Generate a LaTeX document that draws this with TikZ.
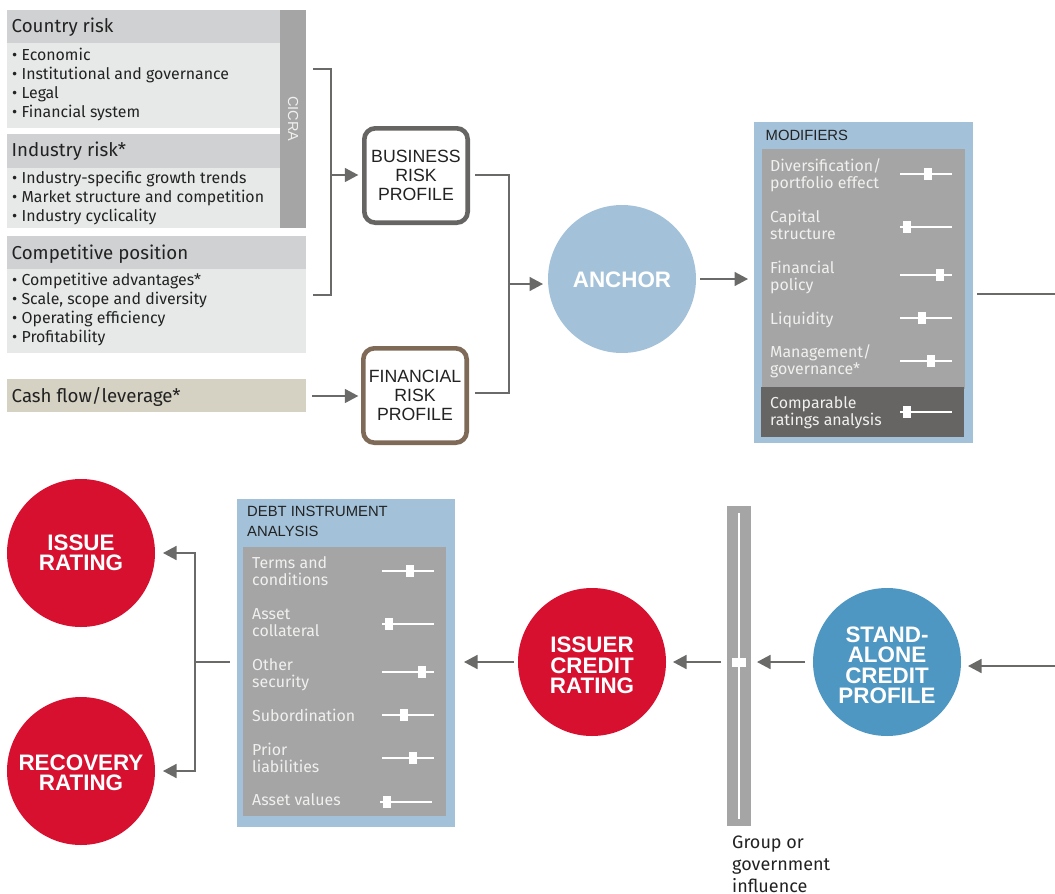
\documentclass[tikz,border=0pt]{standalone}
\usepackage{fontspec}
\setmainfont{Fira Sans}
\newfontfamily\helv{Liberation Sans}
\usetikzlibrary{arrows.meta}
\definecolor{hdgray}{HTML}{D0D1D3}
\definecolor{bdgray}{HTML}{E7E9E8}
\definecolor{midgray}{HTML}{A5A5A5}
\definecolor{darkbar}{HTML}{666563}
\definecolor{tanbox}{HTML}{D5D2C3}
\definecolor{lineg}{HTML}{6A6A68}
\definecolor{brownb}{HTML}{7F6A58}
\definecolor{lblue}{HTML}{A3C2D9}
\definecolor{mblue}{HTML}{4F97C3}
\definecolor{crimson}{HTML}{D7102F}
\definecolor{inktext}{HTML}{222222}
\definecolor{sltext}{HTML}{F0F0EE}
\tikzset{
 x=1pt,y=-1pt,
 panel/.style={draw=none,inner sep=0pt,outer sep=0pt,anchor=north west},
 headtext/.style={anchor=west,inner sep=0pt,text=inktext,font=\fontsize{18.7}{20}\selectfont},
 bullets/.style={anchor=west,inner sep=0pt,align=left,text=inktext,font=\fontsize{15.9}{19}\selectfont},
 sltxt/.style={anchor=west,inner sep=0pt,align=left,text=sltext,font=\fontsize{15.9}{17.2}\selectfont},
 boxtitle/.style={anchor=west,inner sep=0pt,align=left,text=inktext,font=\helv\fontsize{14.8}{20}\selectfont},
 profile/.style={rounded corners=11pt,line width=4.6pt,fill=white,inner sep=0pt,outer sep=0pt,anchor=north west,
   minimum width=103.4pt,minimum height=94.4pt,align=center,text=inktext,font=\helv\fontsize{17.7}{19.4}\selectfont},
 disc/.style={circle,minimum size=148pt,inner sep=0pt,outer sep=0pt},
 disctext/.style={inner sep=0pt,align=center,text=white,font=\helv\bfseries\fontsize{22.4}{20.5}\selectfont},
 wire/.style={draw=lineg,line width=1.6pt},
 arr/.style={wire,-{Triangle[length=13.5pt,width=14pt]}},
 knob/.style={fill=white,draw=none,inner sep=0pt,minimum width=8pt,minimum height=12pt},
 track/.style={draw=white,line width=1.4pt},
}
\newcommand{\slid}[5]{% name, line x0, line x1, y, knob x
 \coordinate (#1a) at (#2,#4); \coordinate (#1b) at (#3,#4);
 \draw[track] (#1a) -- (#1b);
 \node[knob] (#1k) at (#5,#4) {};}
\begin{document}
\begin{tikzpicture}
\useasboundingbox (0,0) rectangle (1055,894);
% left panels
\node[panel,fill=midgray,minimum width=26pt,minimum height=218pt] (cicra) at (280,10) {};
\node[anchor=center,rotate=-90,inner sep=0pt,text=sltext,font=\helv\fontsize{14.5}{16}\selectfont] (cicrat) at (cicra.center) {CICRA};
\node[panel,fill=hdgray,minimum width=273pt,minimum height=33pt] (h1) at (7,10) {};
\node[panel,fill=bdgray,minimum width=273pt,minimum height=85pt] (b1) at (7,43) {};
\node[panel,fill=hdgray,minimum width=273pt,minimum height=34pt] (h2) at (7,134) {};
\node[panel,fill=bdgray,minimum width=273pt,minimum height=60pt] (b2) at (7,168) {};
\node[panel,fill=hdgray,minimum width=299pt,minimum height=33pt] (h3) at (7,236) {};
\node[panel,fill=bdgray,minimum width=299pt,minimum height=84pt] (b3) at (7,269) {};
\node[panel,fill=tanbox,minimum width=299pt,minimum height=33pt] (cf) at (7,379) {};
\node[headtext] (h1t) at (11.5,27.5) {Country risk};
\node[bullets] (b1t) at (12,84) {• Economic\\• Institutional and governance\\• Legal\\• Financial system};
\node[headtext] (h2t) at (11.5,151.5) {Industry risk*};
\node[bullets] (b2t) at (12,197.5) {• Industry-specific growth trends\\• Market structure and competition\\• Industry cyclicality};
\node[headtext] (h3t) at (11.5,254.5) {Competitive position};
\node[bullets] (b3t) at (12,309.7) {• Competitive advantages*\\• Scale, scope and diversity\\• Operating efficiency\\• Profitability};
\node[headtext] (cft) at (11.5,396.5) {Cash flow/leverage*};
% profiles
\node[profile,draw=darkbar] (bus) at (364.3,128.3) {BUSINESS\\RISK\\PROFILE};
\node[profile,draw=brownb] (fin) at (363.3,348.3) {FINANCIAL\\RISK\\PROFILE};
% anchor
\node[disc,fill=lblue] (anc) at (622,279) {};
\node[disctext] (anct) at ([yshift=-1pt]anc.center) {ANCHOR};
% modifiers
\node[panel,fill=lblue,minimum width=219pt,minimum height=321pt] (mod) at (754,122) {};
\node[panel,fill=midgray,minimum width=203pt,minimum height=240pt] (modi) at (762,149) {};
\node[panel,fill=darkbar,minimum width=203pt,minimum height=50pt] (modd) at (761,387) {};
\node[boxtitle] (modt) at (765.5,135.8) {MODIFIERS};
\node[sltxt] (m1) at (770,175.5) {Diversification/\\portfolio effect};
\node[sltxt] (m2) at (770,224.7) {Capital\\structure};
\node[sltxt] (m3) at (770,277.5) {Financial\\policy};
\node[sltxt] (m4) at (770,320) {Liquidity};
\node[sltxt] (m5) at (770,361.5) {Management/\\governance*};
\node[sltxt] (m6) at (770,412.7) {Comparable\\ratings analysis};
\slid{s1}{900}{952}{174}{928}
\slid{s2}{900}{952}{227}{907}
\slid{s3}{900}{952}{275}{940}
\slid{s4}{900}{952}{318}{922}
\slid{s5}{900}{952}{361}{931}
\slid{s6}{900}{952}{412}{907}
% discs bottom
\node[disc,fill=crimson] (iss) at (81,553) {};
\node[disctext] (isst) at (iss.center) {ISSUE\\RATING};
\node[disc,fill=crimson] (rec) at (81,771) {};
\node[disctext] (rect) at ([yshift=-2pt]rec.center) {RECOVERY\\RATING};
\node[disc,fill=crimson] (icr) at (592,662) {};
\node[disctext] (icrt) at ([yshift=-3.5pt]icr.center) {ISSUER\\CREDIT\\RATING};
\node[disc,fill=mblue] (sacp) at (887,662) {};
\node[disctext] (sacpt) at ([yshift=-3.5pt]sacp.center) {STAND-\\ALONE\\CREDIT\\PROFILE};
% debt
\node[panel,fill=lblue,minimum width=218pt,minimum height=328pt] (debt) at (237,499) {};
\node[panel,fill=midgray,minimum width=203pt,minimum height=269pt] (debti) at (243,547) {};
\node[boxtitle] (debtt) at (247,521.5) {DEBT INSTRUMENT\\ANALYSIS};
\node[sltxt] (d1) at (252,571.5) {Terms and\\conditions};
\node[sltxt] (d2) at (252,622.5) {Asset\\collateral};
\node[sltxt] (d3) at (252,674.5) {Other\\security};
\node[sltxt] (d4) at (252,715.5) {Subordination};
\node[sltxt] (d5) at (252,757.5) {Prior\\liabilities};
\node[sltxt] (d6) at (252,800) {Asset values};
\slid{t1}{382}{434}{571}{410}
\slid{t2}{382}{434}{624}{389}
\slid{t3}{382}{434}{672}{422}
\slid{t4}{382}{434}{715}{404}
\slid{t5}{382}{434}{758}{413}
\slid{t6}{380}{432}{802}{387}
% group bar
\node[panel,fill=midgray,minimum width=24pt,minimum height=320pt] (bar) at (727,506) {};
\coordinate (bart) at (739,513); \coordinate (barb) at (739,819);
\draw[track] (bart) -- (barb);
\node[fill=white,inner sep=0pt,minimum width=14pt,minimum height=9pt] (bark) at (739,662) {};
\node[anchor=north west,inner sep=0pt,align=left,text=inktext,font=\fontsize{18}{22}\selectfont] (grp) at (732,835.5) {Group or\\government\\influence};
% connectors top
\coordinate (ca) at (313,69); \coordinate (cb) at (313,295);
\coordinate (cc) at (331,69); \coordinate (cd) at (331,295); \coordinate (ce) at (331,175);
\draw[wire] (ca) -- (cc) -- (cd) -- (cb);
\draw[arr,shorten >=6pt] (ce) -- (bus.west |- ce);
\coordinate (cf1) at (312,396);
\draw[arr,shorten >=5pt] (cf1) -- (fin.west |- cf1);
\coordinate (r1) at (475,175); \coordinate (r2) at (475,393);
\coordinate (r3) at (509,175); \coordinate (r4) at (509,393); \coordinate (r5) at (509,284);
\draw[wire] (r1) -- (r3) -- (r4) -- (r2);
\draw[arr,shorten >=5pt] (r5) -- (anc.west |- r5);
\draw[arr,shorten <=4pt,shorten >=6pt] (anc.east) -- (mod.west |- anc.east);
\coordinate (o1) at (977,294); \coordinate (o2) at (1055,294);
\draw[wire] (o1) -- (o2);
% connectors bottom
\coordinate (i1) at (1055,666);
\draw[arr,shorten >=7pt] (i1) -- (sacp.east |- i1);
\draw[arr,shorten <=8pt,shorten >=6pt] (sacp.west) -- (bar.east |- sacp.west);
\draw[arr,shorten <=6pt,shorten >=7pt] (bar.west |- icr.east) -- (icr.east);
\draw[arr,shorten <=4pt,shorten >=9pt] (icr.west) -- (debt.east |- icr.west);
\coordinate (k1) at (230,662); \coordinate (k2) at (195,662);
\coordinate (k3) at (195,553); \coordinate (k4) at (195,771);
\draw[wire] (k1) -- (k2);
\draw[arr,shorten >=8pt] (k2) -- (k3) -- (iss.east);
\draw[arr,shorten >=8pt] (k2) -- (k4) -- (rec.east);
\end{tikzpicture}
\end{document}
